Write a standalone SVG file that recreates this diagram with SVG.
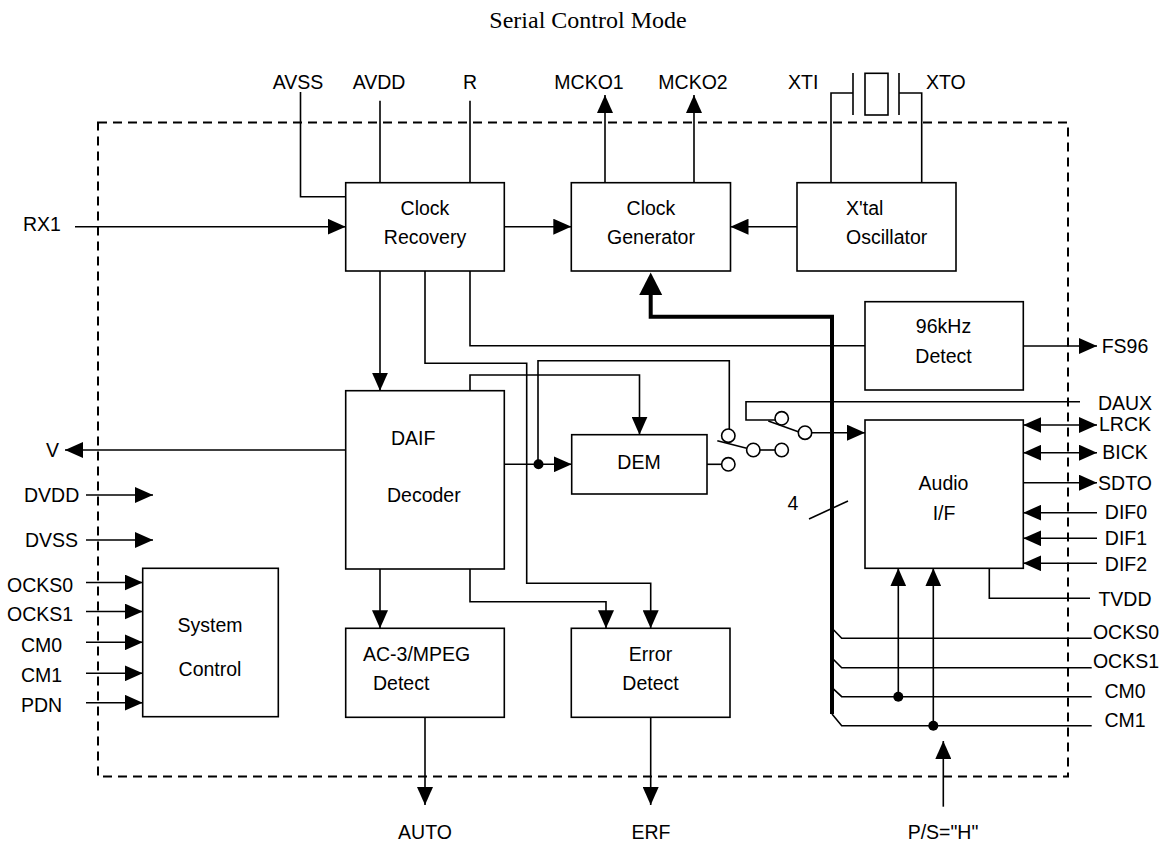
<svg xmlns="http://www.w3.org/2000/svg" width="1165" height="844" viewBox="0 0 1165 844">
<style>
.t{font-family:"Liberation Sans",Arial,Helvetica,sans-serif;font-size:19.5px;fill:#000}
.c{text-anchor:middle}
.title{font-family:"Liberation Serif","Times New Roman",serif;font-size:24px;text-anchor:middle;fill:#000}
.box{fill:#fff;stroke:#000;stroke-width:1.6}
.w{fill:none;stroke:#000;stroke-width:1.6}
.a{fill:none;stroke:#000;stroke-width:1.6;marker-end:url(#arr)}
.d{fill:none;stroke:#000;stroke-width:1.6;marker-end:url(#arr);marker-start:url(#arr)}
.bus{fill:none;stroke:#000;stroke-width:4}
.term{fill:#fff;stroke:#000;stroke-width:1.6}
.dot{fill:#000}
</style>
<defs>
<marker id="arr" viewBox="0 0 18 16" refX="18" refY="8" markerWidth="18" markerHeight="16" orient="auto-start-reverse" markerUnits="userSpaceOnUse">
<path d="M0,0 L18,8 L0,16 z" fill="#000"/>
</marker>
</defs>
<rect width="1165" height="844" fill="#fff"/>
<text class="title" x="588" y="28">Serial Control Mode</text>
<rect id="boundary" x="98" y="122.5" width="970" height="654" fill="none" stroke="#000" stroke-width="2" stroke-dasharray="9 6"/>

<g id="connectors">
<line class="a" x1="75" y1="226.7" x2="345.7" y2="226.7"/>
<line class="a" x1="504.3" y1="226.7" x2="571.3" y2="226.7"/>
<line class="a" x1="797" y1="226.7" x2="730.5" y2="226.7"/>
<polyline class="w" points="300.5,92 300.5,196.7 345.7,196.7"/>
<line class="w" x1="380" y1="100.7" x2="380" y2="182.7"/>
<line class="w" x1="470" y1="100.7" x2="470" y2="182.7"/>
<line class="a" x1="605" y1="182.7" x2="605" y2="95"/>
<line class="a" x1="694" y1="182.7" x2="694" y2="95"/>
<polyline class="w" points="831,182 831,93 853,93"/>
<line class="w" x1="853" y1="73" x2="853" y2="115"/>
<rect class="w" x="865" y="73.3" width="23" height="41.7"/>
<line class="w" x1="899" y1="73" x2="899" y2="115"/>
<polyline class="w" points="899,93 921.7,93 921.7,182"/>
<polyline class="bus" points="832,714 832,316.7 650.7,316.7 650.7,292"/>
<polygon points="639.2,295 662.2,295 650.7,272.5" fill="#000"/>
<line class="a" x1="380" y1="271" x2="380" y2="390.7"/>
<polyline class="a" points="425,271 425,363.3 526.7,363.3 526.7,583.3 650.7,583.3 650.7,628.3"/>
<polyline class="w" points="470,271 470,345.7 865,345.7"/>
<polyline class="a" points="470,390.7 470,375 639.5,375 639.5,434.7"/>
<line class="a" x1="504.3" y1="464.3" x2="571.7" y2="464.3"/>
<polyline class="w" points="538,464.3 538,360.7 729.3,360.7 729.3,429"/>
<circle class="dot" cx="538.5" cy="464.3" r="5"/>
<line class="w" x1="707" y1="464.3" x2="721.6" y2="464.3"/>
<circle class="term" cx="728.3" cy="435.7" r="6.7"/>
<circle class="term" cx="728.3" cy="464.3" r="6.7"/>
<line class="w" x1="717.3" y1="440.7" x2="746.7" y2="448.3"/>
<circle class="term" cx="753.3" cy="450" r="6.7"/>
<line class="w" x1="760" y1="450" x2="775" y2="450"/>
<circle class="term" cx="781.7" cy="450" r="6.7"/>
<polyline class="w" points="1080,401.7 746,401.7 746,420 775.5,420"/>
<circle class="term" cx="781.7" cy="418.3" r="6.7"/>
<line class="w" x1="768.3" y1="421" x2="798.3" y2="431.7"/>
<circle class="term" cx="805" cy="432.7" r="6.7"/>
<line class="a" x1="811.7" y1="432.7" x2="865" y2="432.7"/>
<line class="a" x1="345.7" y1="450" x2="65" y2="450"/>
<line class="a" x1="380" y1="569" x2="380" y2="628.3"/>
<polyline class="a" points="470,569 470,601.7 606,601.7 606,628.3"/>
<line class="a" x1="425" y1="717.3" x2="425" y2="805"/>
<line class="a" x1="650.7" y1="717.3" x2="650.7" y2="805"/>
<line class="a" x1="1023.3" y1="346" x2="1097" y2="346"/>
<line class="d" x1="1023.3" y1="425" x2="1097" y2="425"/>
<line class="d" x1="1023.3" y1="452.7" x2="1097" y2="452.7"/>
<line class="a" x1="1023.3" y1="482.7" x2="1097" y2="482.7"/>
<line class="a" x1="1097" y1="512.7" x2="1023.3" y2="512.7"/>
<line class="a" x1="1097" y1="538.3" x2="1023.3" y2="538.3"/>
<line class="a" x1="1097" y1="563.3" x2="1023.3" y2="563.3"/>
<polyline class="w" points="989.3,568.3 989.3,598.3 1090,598.3"/>
<polyline class="w" points="832,628.3 841.7,638.3 1091.7,638.3"/>
<polyline class="w" points="832,658 841.7,667.7 1091.7,667.7"/>
<polyline class="w" points="832,687.7 841.7,696.7 1091.7,696.7"/>
<polyline class="w" points="832,714 841.7,725.7 1091.7,725.7"/>
<line class="a" x1="898.3" y1="696.7" x2="898.3" y2="568.3"/>
<circle class="dot" cx="898.3" cy="696.7" r="5"/>
<line class="a" x1="933.3" y1="725.7" x2="933.3" y2="568.3"/>
<circle class="dot" cx="933.3" cy="725.7" r="5"/>
<line class="a" x1="943.3" y1="806.7" x2="943.3" y2="741"/>
<line class="w" x1="809" y1="519" x2="848" y2="501"/>
<line class="a" x1="86" y1="495" x2="153" y2="495"/>
<line class="a" x1="86" y1="540" x2="153" y2="540"/>
<line class="a" x1="86" y1="582.5" x2="142.7" y2="582.5"/>
<line class="a" x1="86" y1="611.5" x2="142.7" y2="611.5"/>
<line class="a" x1="86" y1="642.3" x2="142.7" y2="642.3"/>
<line class="a" x1="86" y1="673.3" x2="142.7" y2="673.3"/>
<line class="a" x1="86" y1="702.7" x2="142.7" y2="702.7"/>
</g>

<g id="clock-recovery">
<rect class="box" x="345.7" y="182.7" width="158.6" height="88.3"/>
<text class="t c" x="425" y="215">Clock</text>
<text class="t c" x="425" y="244">Recovery</text>
</g>
<g id="clock-generator">
<rect class="box" x="571.3" y="182.7" width="159.2" height="88.3"/>
<text class="t c" x="651" y="215">Clock</text>
<text class="t c" x="651" y="244">Generator</text>
</g>
<g id="xtal-oscillator">
<rect class="box" x="797" y="182.7" width="159" height="88.3"/>
<text class="t" x="846" y="215">X'tal</text>
<text class="t" x="846" y="244">Oscillator</text>
</g>
<g id="detect-96k">
<rect class="box" x="865" y="301.7" width="158.3" height="88.3"/>
<text class="t c" x="943.5" y="333.3">96kHz</text>
<text class="t c" x="943.5" y="362.7">Detect</text>
</g>
<g id="daif-decoder">
<rect class="box" x="345.7" y="390.7" width="158.6" height="178.3"/>
<text class="t" x="391" y="445">DAIF</text>
<text class="t" x="387" y="501.5">Decoder</text>
</g>
<g id="dem">
<rect class="box" x="571.7" y="434.7" width="135.3" height="59.3"/>
<text class="t c" x="639" y="469.3">DEM</text>
</g>
<g id="audio-if">
<rect class="box" x="865" y="420" width="158.3" height="148.3"/>
<text class="t c" x="943.5" y="490">Audio</text>
<text class="t c" x="944" y="520">I/F</text>
</g>
<g id="system-control">
<rect class="box" x="142.7" y="568.3" width="135.6" height="148.4"/>
<text class="t c" x="210" y="632">System</text>
<text class="t c" x="210" y="676">Control</text>
</g>
<g id="ac3-mpeg-detect">
<rect class="box" x="345.7" y="628.3" width="158.6" height="89"/>
<text class="t" x="363" y="660.7">AC-3/MPEG</text>
<text class="t" x="373" y="690">Detect</text>
</g>
<g id="error-detect">
<rect class="box" x="571.3" y="628.3" width="158.7" height="89"/>
<text class="t c" x="650.5" y="660.7">Error</text>
<text class="t c" x="650.5" y="690">Detect</text>
</g>

<g id="pins">
<text class="t c" x="298" y="89">AVSS</text>
<text class="t c" x="379" y="89">AVDD</text>
<text class="t c" x="470" y="89">R</text>
<text class="t c" x="589" y="89">MCKO1</text>
<text class="t c" x="693" y="89">MCKO2</text>
<text class="t" x="788" y="89">XTI</text>
<text class="t" x="926" y="89">XTO</text>
<text class="t" x="23" y="231">RX1</text>
<text class="t" x="46" y="457">V</text>
<text class="t" x="24" y="502">DVDD</text>
<text class="t" x="25" y="547">DVSS</text>
<text class="t" x="7" y="592">OCKS0</text>
<text class="t" x="7" y="621">OCKS1</text>
<text class="t" x="21" y="652">CM0</text>
<text class="t" x="21" y="682">CM1</text>
<text class="t" x="21" y="712">PDN</text>
<text class="t c" x="1125" y="353">FS96</text>
<text class="t c" x="1125" y="410">DAUX</text>
<text class="t c" x="1125" y="431">LRCK</text>
<text class="t c" x="1125" y="459">BICK</text>
<text class="t c" x="1125" y="490">SDTO</text>
<text class="t c" x="1126" y="519">DIF0</text>
<text class="t c" x="1126" y="545">DIF1</text>
<text class="t c" x="1126" y="571">DIF2</text>
<text class="t c" x="1125" y="606">TVDD</text>
<text class="t c" x="1126" y="639">OCKS0</text>
<text class="t c" x="1126" y="668">OCKS1</text>
<text class="t c" x="1125" y="698">CM0</text>
<text class="t c" x="1125" y="727">CM1</text>
<text class="t c" x="425" y="839">AUTO</text>
<text class="t c" x="651" y="839">ERF</text>
<text class="t c" x="943" y="839">P/S="H"</text>
<text class="t c" x="793" y="510">4</text>
</g>
</svg>
